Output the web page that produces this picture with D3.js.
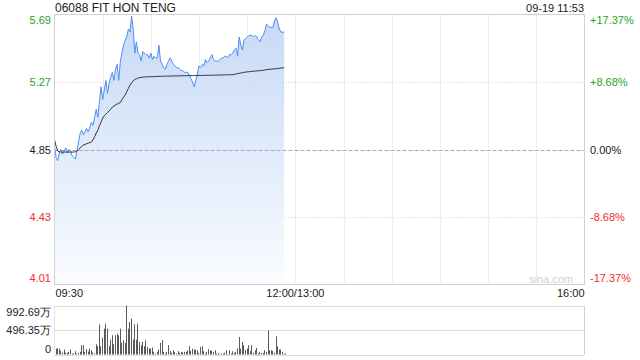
<!DOCTYPE html>
<html>
<head>
<meta charset="utf-8">
<script src="https://cdn.jsdelivr.net/npm/d3@7"></script>
<style>
  body { margin: 0; background: #fff; }
  svg text { font-family: "Liberation Sans", Arial, sans-serif; }
</style>
</head>
<body>
<div id="chart"></div>
<script>
var title = "06088 FIT HON TENG";
var stamp = "09-19 11:53";

// price ticks (left) and percent ticks (right)
var priceTicks = [5.69, 5.27, 4.85, 4.43, 4.01];
var pctTicks = ["+17.37%", "+8.68%", "0.00%", "-8.68%", "-17.37%"];
var prevClose = 4.85;

var timeLabels = ["09:30", "12:00/13:00", "16:00"];
var timeLabelMin = [0, 150, 330];

var volTicks = [992.69, 496.35, 0];
var volLabels = ["992.69万", "496.35万", "0"];

// one value per minute from 09:30
var price = [
  4.87, 4.80, 4.78, 4.83, 4.85, 4.82, 4.84, 4.86, 4.83, 4.85,
  4.84, 4.81, 4.80, 4.79, 4.84, 4.90, 4.95, 4.97, 4.94, 4.96,
  4.98, 4.96, 4.99, 5.02, 5.00, 5.05, 5.10, 5.05, 5.15, 5.24,
  5.16, 5.22, 5.28, 5.20, 5.26, 5.30, 5.33, 5.28, 5.35, 5.38,
  5.28, 5.40, 5.45, 5.50, 5.53, 5.55, 5.60, 5.58, 5.68, 5.60,
  5.45, 5.52, 5.45, 5.44, 5.40, 5.46, 5.45, 5.44, 5.44, 5.42,
  5.45, 5.41, 5.43, 5.42, 5.42, 5.50, 5.40, 5.38, 5.36, 5.35,
  5.38, 5.40, 5.42, 5.40, 5.38, 5.37, 5.36, 5.36, 5.35, 5.34,
  5.34, 5.33, 5.33, 5.33, 5.31, 5.29, 5.27, 5.24, 5.28, 5.32,
  5.37, 5.36, 5.38, 5.37, 5.41, 5.39, 5.40, 5.42, 5.44, 5.41,
  5.40, 5.40, 5.40, 5.41, 5.42, 5.42, 5.43, 5.43, 5.42, 5.44,
  5.44, 5.45, 5.47, 5.48, 5.43, 5.55, 5.50, 5.47, 5.53, 5.54,
  5.55, 5.56, 5.56, 5.56, 5.55, 5.56, 5.55, 5.53, 5.52, 5.55,
  5.56, 5.59, 5.63, 5.62, 5.61, 5.61, 5.61, 5.65, 5.67, 5.64,
  5.60, 5.58, 5.58, 5.58
];

var avgPrice = [
  4.91, 4.87, 4.84, 4.835, 4.834, 4.834, 4.834, 4.834, 4.834, 4.834,
  4.834, 4.834, 4.834, 4.836, 4.84, 4.85, 4.86, 4.87, 4.878, 4.882,
  4.886, 4.89, 4.893, 4.897, 4.91, 4.93, 4.953, 4.97, 5.00, 5.02,
  5.045, 5.06, 5.07, 5.08, 5.09, 5.10, 5.113, 5.12, 5.127, 5.133,
  5.138, 5.142, 5.16, 5.175, 5.19, 5.21, 5.23, 5.25, 5.265, 5.278,
  5.285, 5.29, 5.294, 5.297, 5.299, 5.30, 5.301, 5.302, 5.302, 5.303,
  5.303, 5.303, 5.304, 5.304, 5.305, 5.305, 5.305, 5.306, 5.306, 5.306,
  5.307, 5.307, 5.307, 5.307, 5.308, 5.308, 5.308, 5.308, 5.308, 5.309,
  5.309, 5.309, 5.309, 5.309, 5.31, 5.31, 5.31, 5.31, 5.31, 5.31,
  5.311, 5.311, 5.311, 5.311, 5.312, 5.312, 5.312, 5.312, 5.312, 5.313,
  5.313, 5.313, 5.313, 5.314, 5.314, 5.314, 5.314, 5.315, 5.315, 5.315,
  5.315, 5.316, 5.318, 5.32, 5.322, 5.324, 5.326, 5.328, 5.33, 5.332,
  5.333, 5.334, 5.335, 5.336, 5.337, 5.338, 5.339, 5.34, 5.341, 5.342,
  5.343, 5.345, 5.347, 5.348, 5.349, 5.35, 5.351, 5.352, 5.353, 5.354,
  5.355, 5.357, 5.358, 5.359
];

// volume in 万
var volume = [
  121, 121, 121, 74, 40, 100, 40, 34, 54, 100,
  20, 20, 67, 20, 34, 54, 188, 188, 54, 107,
  60, 121, 87, 40, 20, 208, 168, 610, 168, 342,
  523, 623, 523, 168, 302, 389, 208, 389, 422, 389,
  523, 235, 288, 235, 992, 523, 657, 724, 302, 610,
  302, 623, 255, 188, 255, 168, 288, 154, 121, 121,
  141, 54, 20, 54, 100, 235, 288, 54, 20, 54,
  188, 74, 34, 87, 54, 20, 67, 34, 54, 40,
  54, 54, 87, 168, 74, 121, 100, 100, 87, 34,
  154, 168, 67, 20, 54, 107, 87, 74, 54, 87,
  20, 34, 7, 20, 20, 34, 87, 7, 87, 20,
  67, 34, 54, 121, 355, 121, 255, 188, 87, 121,
  188, 67, 188, 34, 87, 134, 20, 54, 34, 34,
  87, 54, 489, 87, 87, 74, 34, 369, 168, 100,
  100, 54, 20, 20
];

var W = 640, H = 360;
var green = "#1ea51e", red = "#f0302a", grid = "#c8c8c8";

var svg = d3.select("#chart").append("svg")
  .attr("width", W)
  .attr("height", H);

var x = d3.scaleLinear().domain([0, 330]).range([54.5, 584.5]);
var y = d3.scaleLinear().domain([4.01, 5.69]).range([284.5, 14.5]);
var yv = d3.scaleLinear().domain([0, 992.69]).range([354.5, 305.5]);

// gradient for the area under the price
var defs = svg.append("defs");
var grad = defs.append("linearGradient")
  .attr("id", "fillGrad")
  .attr("gradientUnits", "userSpaceOnUse")
  .attr("x1", 0).attr("y1", y(5.69)).attr("x2", 0).attr("y2", y(4.01));
grad.append("stop").attr("offset", "0%").attr("stop-color", "#c6d9f6");
grad.append("stop").attr("offset", "100%").attr("stop-color", "#fafcff");

// vertical grid every 30 min
var vMins = d3.range(30, 330, 30);
svg.selectAll(".vgrid")
  .data(vMins)
  .enter().append("line")
  .attr("class", "vgrid")
  .attr("x1", function(d) { return Math.round(x(d)) + 0.5; })
  .attr("x2", function(d) { return Math.round(x(d)) + 0.5; })
  .attr("y1", y(5.69))
  .attr("y2", y(4.01))
  .style("stroke", grid)
  .style("stroke-dasharray", "1,2");

// horizontal grid
svg.selectAll(".hgrid")
  .data([5.27, 4.43])
  .enter().append("line")
  .attr("class", "hgrid")
  .attr("x1", x(0)).attr("x2", x(330))
  .attr("y1", function(d) { return Math.round(y(d)) + 0.5; })
  .attr("y2", function(d) { return Math.round(y(d)) + 0.5; })
  .style("stroke", grid)
  .style("stroke-dasharray", "1,2");

// area + lines
var idx = d3.range(price.length);
var area = d3.area()
  .x(function(i) { return x(i); })
  .y0(y(4.01))
  .y1(function(i) { return y(price[i]); });
svg.append("path")
  .datum(idx)
  .attr("d", area)
  .style("fill", "url(#fillGrad)");

// prev close line
svg.append("line")
  .attr("x1", x(0)).attr("x2", x(330))
  .attr("y1", Math.round(y(prevClose)) + 0.5)
  .attr("y2", Math.round(y(prevClose)) + 0.5)
  .style("stroke", "#aaa")
  .style("stroke-dasharray", "4,2");

svg.append("path")
  .datum(idx)
  .attr("d", d3.line().x(function(i) { return x(i); }).y(function(i) { return y(price[i]); }))
  .style("fill", "none")
  .style("stroke", "#4d8ef0")
  .style("stroke-width", 1);

svg.append("path")
  .datum(idx)
  .attr("d", d3.line().x(function(i) { return x(i); }).y(function(i) { return y(avgPrice[i]); }))
  .style("fill", "none")
  .style("stroke", "#333")
  .style("stroke-width", 1);

// frame of price panel
svg.append("rect")
  .attr("x", x(0)).attr("y", y(5.69))
  .attr("width", x(330) - x(0))
  .attr("height", y(4.01) - y(5.69))
  .style("fill", "none")
  .style("stroke", "#d0d0d0");

// watermark
svg.append("text")
  .attr("x", 573).attr("y", 283)
  .attr("text-anchor", "end")
  .style("font-size", "11px")
  .style("fill", "#d2d2d2")
  .text("sina.com");

// title / timestamp
svg.append("text")
  .attr("x", 55).attr("y", 12)
  .style("font-size", "12px")
  .style("fill", "#222")
  .text(title);
svg.append("text")
  .attr("x", 584).attr("y", 12)
  .attr("text-anchor", "end")
  .style("font-size", "11px")
  .style("fill", "#222")
  .text(stamp);

// left price labels, top and bottom pulled inside
function labelY(v) {
  var yy = y(v) + 4;
  if (v === 5.69) yy = 24;
  if (v === 4.01) yy = 282;
  return yy;
}
function tickColor(i) {
  if (i < 2) return green;
  if (i > 2) return red;
  return "#222";
}
svg.selectAll(".plab")
  .data(priceTicks)
  .enter().append("text")
  .attr("class", "plab")
  .attr("x", 51)
  .attr("y", function(d) { return labelY(d); })
  .attr("text-anchor", "end")
  .style("font-size", "11px")
  .style("fill", function(d, i) { return tickColor(i); })
  .text(function(d) { return d.toFixed(2); });

svg.selectAll(".rlab")
  .data(pctTicks)
  .enter().append("text")
  .attr("class", "rlab")
  .attr("x", 590)
  .attr("y", function(d, i) { return labelY(priceTicks[i]); })
  .style("font-size", "11px")
  .style("fill", function(d, i) { return tickColor(i); })
  .text(function(d) { return d; });

// time labels
svg.selectAll(".tlab")
  .data(timeLabels)
  .enter().append("text")
  .attr("class", "tlab")
  .attr("x", function(d, i) { return i === 0 ? x(timeLabelMin[i]) + 1 : x(timeLabelMin[i]); })
  .attr("y", 297)
  .attr("text-anchor", function(d, i) { return i === 0 ? "start" : (i === 1 ? "middle" : "end"); })
  .style("font-size", "11px")
  .style("fill", "#222")
  .text(function(d) { return d; });

// volume panel
svg.selectAll(".vline")
  .data(volTicks)
  .enter().append("line")
  .attr("class", "vline")
  .attr("x1", x(0)).attr("x2", x(330))
  .attr("y1", function(d) { return Math.round(yv(d)) + 0.5; })
  .attr("y2", function(d) { return Math.round(yv(d)) + 0.5; })
  .style("stroke", "#bbb")
  .style("stroke-dasharray", "1,1");
svg.append("line")
  .attr("x1", x(330)).attr("x2", x(330))
  .attr("y1", yv(992.69)).attr("y2", yv(0))
  .style("stroke", "#d0d0d0");
svg.append("line")
  .attr("x1", x(0)).attr("x2", x(0))
  .attr("y1", yv(992.69)).attr("y2", yv(0))
  .style("stroke", "#e4e4e4");

svg.selectAll(".vbar")
  .data(volume)
  .enter().append("rect")
  .attr("class", "vbar")
  .attr("x", function(d, i) { return Math.round(x(i)) + 1; })
  .attr("y", function(d) { return yv(d); })
  .attr("width", 1)
  .attr("height", function(d) { return yv(0) - yv(d); })
  .style("fill", "#5a5a5a");

// labels: top one pushed down, middle centred, zero pushed up
var volLabelDy = [10, 4, -2];
svg.selectAll(".vlab")
  .data(volLabels)
  .enter().append("text")
  .attr("class", "vlab")
  .attr("x", 51)
  .attr("y", function(d, i) { return yv(volTicks[i]) + volLabelDy[i]; })
  .attr("text-anchor", "end")
  .style("font-size", "11px")
  .style("fill", "#222")
  .text(function(d) { return d; });
</script>
</body>
</html>
